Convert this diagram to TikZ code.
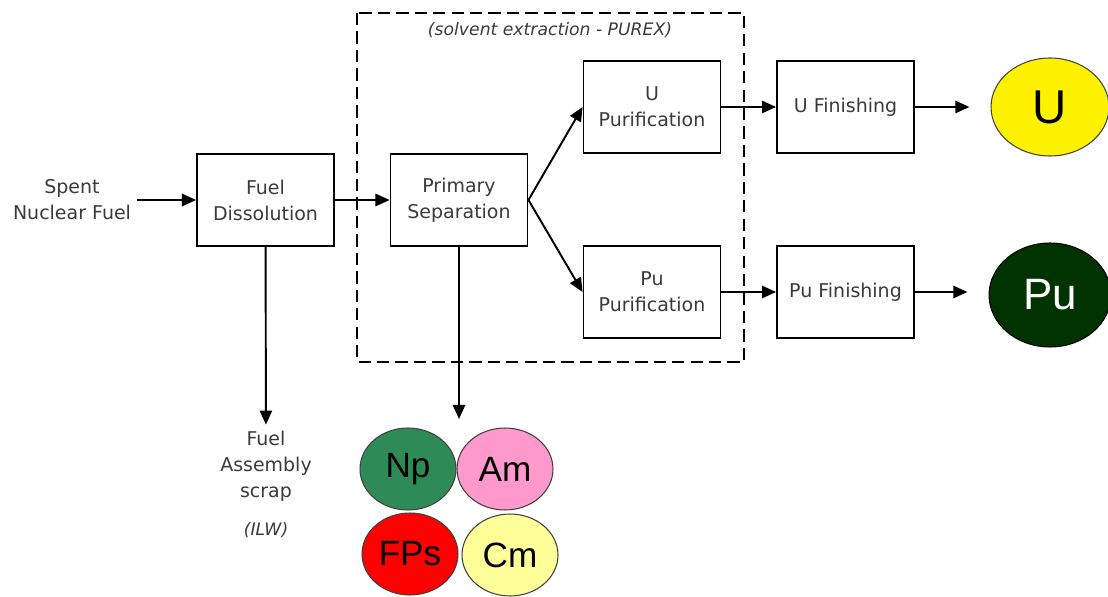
\documentclass[tikz,border=0pt]{standalone}
\usepackage{fontspec}
\setmainfont{DejaVu Sans}
\newfontfamily\elemfont{Liberation Sans}
\usepackage{tikz}
\usetikzlibrary{
  positioning, arrows.meta, shapes.geometric, calc
}
\definecolor{txtgray}{HTML}{3A3A3A}
\definecolor{npgreen}{HTML}{2E8B57}
\definecolor{ampink}{HTML}{FF99CC}
\definecolor{cmyellow}{HTML}{FFFF99}
\definecolor{pugreen}{HTML}{003300}

\begin{document}
\begin{tikzpicture}[
          x=0.02cm, y=-0.02cm,
          every node/.style={font=\fontsize{10.8}{14.8}\selectfont, text=txtgray, align=center},
          procbox/.style={draw=black, line width=1.1pt, minimum width=2.74cm, minimum height=1.84cm},
          flow/.style={-{Triangle[length=8pt,width=7pt]}, line width=1.1pt},
          element/.style={ellipse, draw=black!75, line width=0.6pt, inner sep=0pt, text=black,
                          font=\elemfont\fontsize{20}{20}\selectfont},
          note/.style={font=\itshape\fontsize{9.8}{11}\selectfont},
        ]
        \useasboundingbox (0,0) rectangle (1108,597);

        % Solvent extraction boundary
        \draw[line width=1.1pt, dash pattern=on 7pt off 3.5pt] (357,13) rectangle (744,362);
        \node[note] (purex) at (550,30) {(solvent extraction - PUREX)};

        % Process steps
        \node (spent) at (72,200) {Spent\\Nuclear Fuel};
        \node[procbox] (dissol) at (265.5,200) {Fuel\\Dissolution};
        \node[procbox] (primsep) at (459,200) {Primary\\Separation};
        \node[procbox] (upur) at (652,107) {U\\Purification};
        \node[procbox] (pupur) at (652,292) {Pu\\Purification};
        \node[procbox] (ufin) at (845.5,107) {U Finishing};
        \node[procbox] (pufin) at (845.5,292) {Pu Finishing};

        % Products
        \node[element, fill=yellow, minimum width=2.36cm, minimum height=1.96cm,
              font=\elemfont\fontsize{27}{27}\selectfont] (uprod) at (1050,107) {U};
        \node[element, fill=pugreen, draw=black, text=white, minimum width=2.44cm, minimum height=2.08cm,
              font=\elemfont\fontsize{25}{25}\selectfont] (puprod) at (1050,295) {Pu};

        % Waste streams
        \node (scrap) at (266,466) {Fuel\\Assembly\\scrap};
        \node[note] (ilw) at (266,530) {(ILW)};
        \foreach \nm/\x/\y/\col in {np/408/469/npgreen, am/505/469/ampink, fps/410/554/red, cm/510/555/cmyellow} {
          \node[element, fill=\col, minimum width=1.92cm, minimum height=1.64cm] (\nm) at (\x,\y) {};
        }
        \node[element, draw=none] at (np) {Np};
        \node[element, draw=none] at (am) {Am};
        \node[element, draw=none] at (fps) {FPs};
        \node[element, draw=none] at (cm) {Cm};
        \coordinate (sepout) at (459,419);

        % Flows
        \draw[flow] (spent) -- (dissol);
        \draw[flow] (dissol) -- (primsep);
        \draw[flow] (primsep.east) -- (upur.west);
        \draw[flow] (primsep.east) -- (pupur.west);
        \draw[flow] (upur) -- (ufin);
        \draw[flow] (pupur) -- (pufin);
        \draw[flow, shorten >=12pt] (ufin) -- (uprod);
        \draw[flow, shorten >=12pt] (pufin.east) -- (pufin.east -| puprod.west);
        \draw[flow] (dissol) -- (scrap);
        \draw[flow] (primsep) -- (sepout);
      \end{tikzpicture}
\end{document}
